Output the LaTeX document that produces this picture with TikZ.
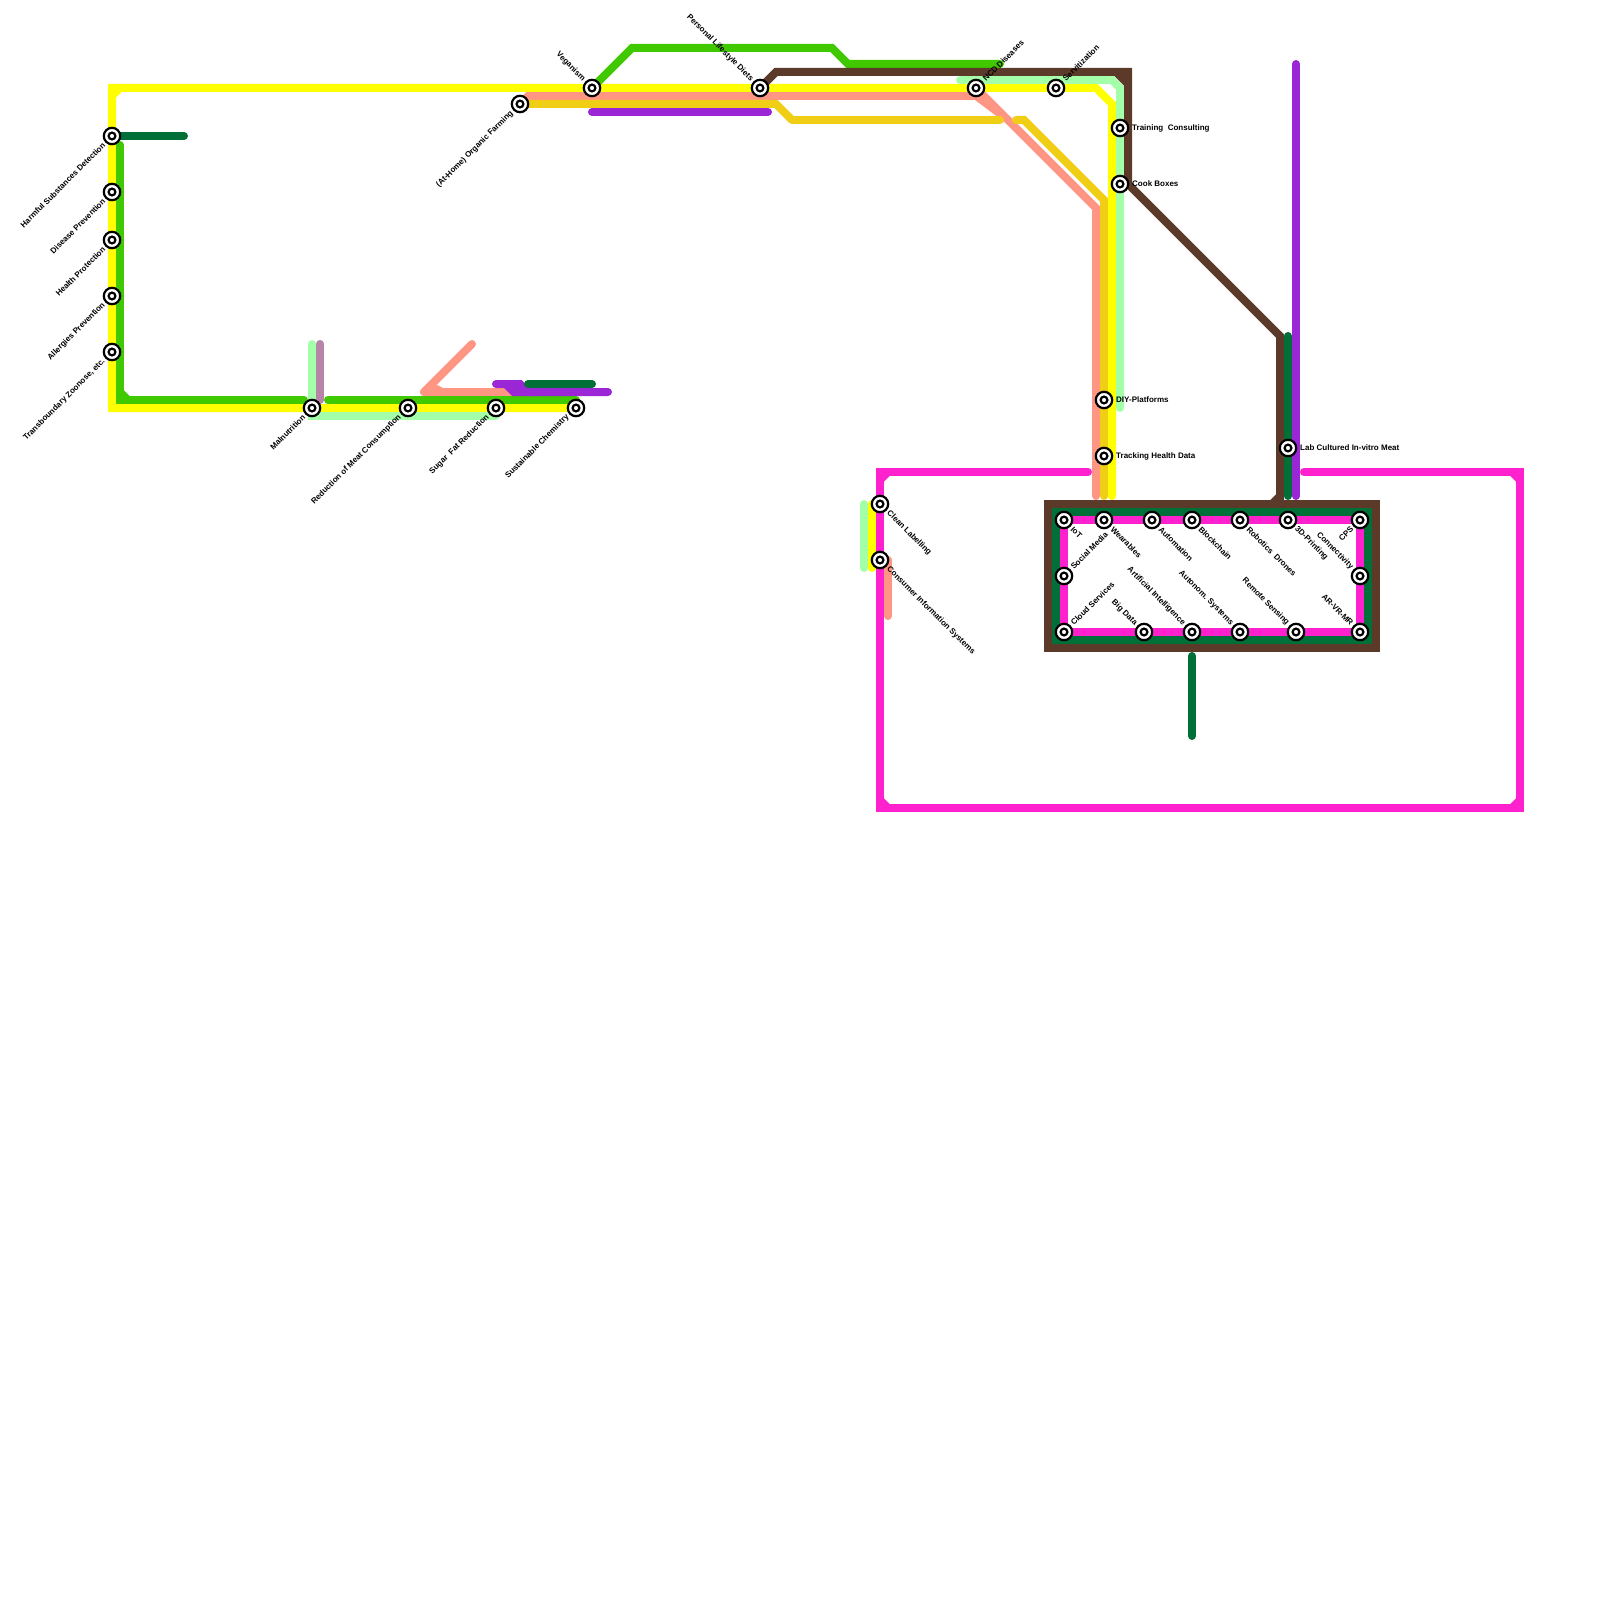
\documentclass[tikz,border=0pt]{standalone}
\usepackage{fontspec}
\setmainfont{Liberation Sans}
\pgfdeclarelayer{lines}
\pgfsetlayers{lines,main}
\definecolor{cyel}{HTML}{FFFF00}
\definecolor{cgrn}{HTML}{40C800}
\definecolor{cdgr}{HTML}{007038}
\definecolor{clgr}{HTML}{A3FFA8}
\definecolor{cmau}{HTML}{B784A7}
\definecolor{csal}{HTML}{FF9583}
\definecolor{cpur}{HTML}{9B26D6}
\definecolor{cgol}{HTML}{F0CE15}
\definecolor{cbrn}{HTML}{5C3A2A}
\definecolor{cmag}{HTML}{FF20CE}
\tikzset{
  x=1pt,y=-1pt,
  metro/.style={line width=8pt,line cap=round,line join=miter,miter limit=10},
  flat/.style={line width=8pt,line cap=butt},
  stn/.style={circle,draw=black,fill=white,line width=2.2pt,minimum size=16.4pt,inner sep=0pt,outer sep=0pt,
    path picture={\draw[black,line width=2.2pt] (path picture bounding box.center) circle (3.4pt);}},
  txt/.style={font=\bfseries\fontsize{8pt}{8pt}\selectfont,inner sep=0pt,text=black},
  lblLL/.style={txt,rotate=45,anchor=east},
  lblUR/.style={txt,rotate=45,anchor=west},
  lblUL/.style={txt,rotate=-45,anchor=east},
  lblLR/.style={txt,rotate=-45,anchor=west},
  lblR/.style={txt,anchor=west},
}
\def\offLL{-8,8}
\def\offUR{8,-8}
\def\offUL{-8,-8}
\def\offLR{8,8}
\def\offR{12,0}
\newcommand\station[5]{%
  \node[stn] (#1) at (#2,#3) {};
  \path (#1.center) ++(\csname off#4\endcsname) node[lbl#4] (#1-lab) {#5};
}
\begin{document}
\begin{tikzpicture}
\useasboundingbox (0,0) rectangle (1600,1600);
% stations and labels
\station{hsd}{112}{136}{LL}{Harmful Substances Detection}
\station{dp}{112}{192}{LL}{Disease Prevention}
\station{hp}{112}{240}{LL}{Health Protection}
\station{ap}{112}{296}{LL}{Allergies Prevention}
\station{tz}{112}{352}{LL}{Transboundary Zoonose, etc.}
\station{mal}{312}{408}{LL}{Malnutrition}
\station{rmc}{408}{408}{LL}{Reduction of Meat Consumption}
\station{sfr}{496}{408}{LL}{Sugar\ \ Fat Reduction}
\station{sc}{576}{408}{LL}{Sustainable Chemistry}
\station{ohf}{520}{104}{LL}{(At-Home) Organic Farming}
\station{veg}{592}{88}{UL}{Veganism}
\station{pld}{760}{88}{UL}{Personal Lifestyle Diets}
\station{ncd}{976}{88}{UR}{NCD Diseases}
\station{serv}{1056}{88}{UR}{Servitization}
\station{tc}{1120}{128}{R}{Training\ \ Consulting}
\station{cb}{1120}{184}{R}{Cook Boxes}
\station{diy}{1104}{400}{R}{DIY-Platforms}
\station{thd}{1104}{456}{R}{Tracking Health Data}
\station{lab}{1288}{448}{R}{Lab Cultured In-vitro Meat}
\station{clean}{880}{504}{LR}{Clean Labelling}
\station{cis}{880}{560}{LR}{Consumer Information Systems}
\station{iot}{1064}{520}{LR}{IoT}
\station{wear}{1104}{520}{LR}{Wearables}
\station{auton}{1152}{520}{LR}{Automation}
\station{block}{1192}{520}{LR}{Blockchain}
\station{robo}{1240}{520}{LR}{Robotics\ \ Drones}
\station{print}{1288}{520}{LR}{3D-Printing}
\station{cps}{1360}{520}{LL}{CPS}
\station{sm}{1064}{576}{UR}{Social Media}
\station{conn}{1360}{576}{UL}{Connectivity}
\station{cloud}{1064}{632}{UR}{Cloud Services}
\station{bigd}{1144}{632}{UL}{Big Data}
\station{ai}{1192}{632}{UL}{Artificial Intelligence}
\station{asys}{1240}{632}{UL}{Autonom. Systems}
\station{rs}{1296}{632}{UL}{Remote Sensing}
\station{arvr}{1360}{632}{UL}{AR-VR-MR}
\coordinate (dgend) at (184,136);
\coordinate (dgbox) at (1192,656);
\coordinate (dgbend) at (1192,736);
\begin{pgfonlayer}{lines}
\fill[white] (0,0) rectangle (1600,1600);
% salmon
\draw[metro,csal,line join=round] (472,344) -- (424,392) -- (504,392) -- (512,400);
\fill[csal] (433.6,388) -- (443,388) -- (436.7,384.8) -- cycle;
\draw[metro,csal,line cap=butt] (ohf.center) -- (528,96) -- (976,96);
\fill[csal] (975,92) -- (975,100) -- (1004,121.7) -- (1000,112) -- cycle;
\draw[metro,csal,line cap=butt] (ncd.center) -- (1096,208) -- (1096,480);
\draw[metro,csal] (1096,400) -- (1096,496);
\draw[metro,csal] (888,560) -- (888,616);
% gold
\draw[metro,cgol,line cap=butt] (ohf.center) -- (776,104) -- (792,120);
\draw[metro,cgol] (792,120) -- (1000,120);
\draw[metro,cgol] (1016,120) -- (1024,120) -- (1104,200) -- (1104,496);
% yellow
\draw[metro,cyel] (sc.center) -- (112,408) -- (112,88) -- (1096,88) -- (1112,104) -- (1112,496);
\draw[flat,cyel] (112,96) -- (120,88);
\draw[metro,cyel] (872,504) -- (872,568);
% light green
\draw[metro,clgr] (312,344) -- (312,416) -- (496,416);
\draw[metro,clgr] (960,80) -- (1112,80) -- (1120,88) -- (1120,408);
\draw[metro,clgr] (864,504) -- (864,568);
% mauve
\draw[metro,cmau] (320,344) -- (320,400);
% green
\draw[metro,cgrn] (120,145) -- (120,400) -- (304,400);
\draw[flat,cgrn] (120,392) -- (128,400);
\draw[metro,cgrn] (328,400) -- (576,400);
\draw[metro,cgrn] (veg.center) -- (632,48) -- (832,48) -- (848,64) -- (1000,64);
% dark green
\draw[metro,cdgr] (hsd.center) -- (dgend);
\draw[metro,cdgr] (1288,336) -- (1288,496);
\draw[metro,cdgr] (dgbox) -- (dgbend);
% purple
\draw[metro,cpur] (496,384) -- (520,384) -- (528,392) -- (608,392);
\fill[cpur] (504,388) -- (512,396) -- (534,396) -- (518,380) -- (510,380) -- cycle;
\draw[metro,cpur] (592,112) -- (768,112);
\draw[metro,cpur] (1296,64) -- (1296,496);
\draw[metro,cdgr] (528,384) -- (592,384);
% magenta big loop
\draw[metro,cmag] (1088,472) -- (880,472) -- (880,808) -- (1520,808) -- (1520,472) -- (1304,472);
\draw[flat,cmag] (880,480) -- (888,472);
\draw[flat,cmag] (880,800) -- (888,808);
\draw[flat,cmag] (1512,808) -- (1520,800);
\draw[flat,cmag] (1512,472) -- (1520,480);
% brown
\draw[metro,cbrn,line cap=butt] (pld.center) -- (776,72) -- (1128,72) -- (1128,184) -- (1280,336) -- (1280,504);
\draw[flat,cbrn] (1116,72) -- (1128,84);
\draw[flat,cbrn] (1270,506) -- (1280,496);
% box
\draw[line width=8pt,cbrn,line join=miter] (1048,504) rectangle (1376,648);
\draw[line width=8pt,cdgr,line join=miter] (1056,512) rectangle (1368,640);
\draw[line width=8pt,cmag,line join=miter] (iot.center) rectangle (arvr.center);
\end{pgfonlayer}
\end{tikzpicture}
\end{document}
